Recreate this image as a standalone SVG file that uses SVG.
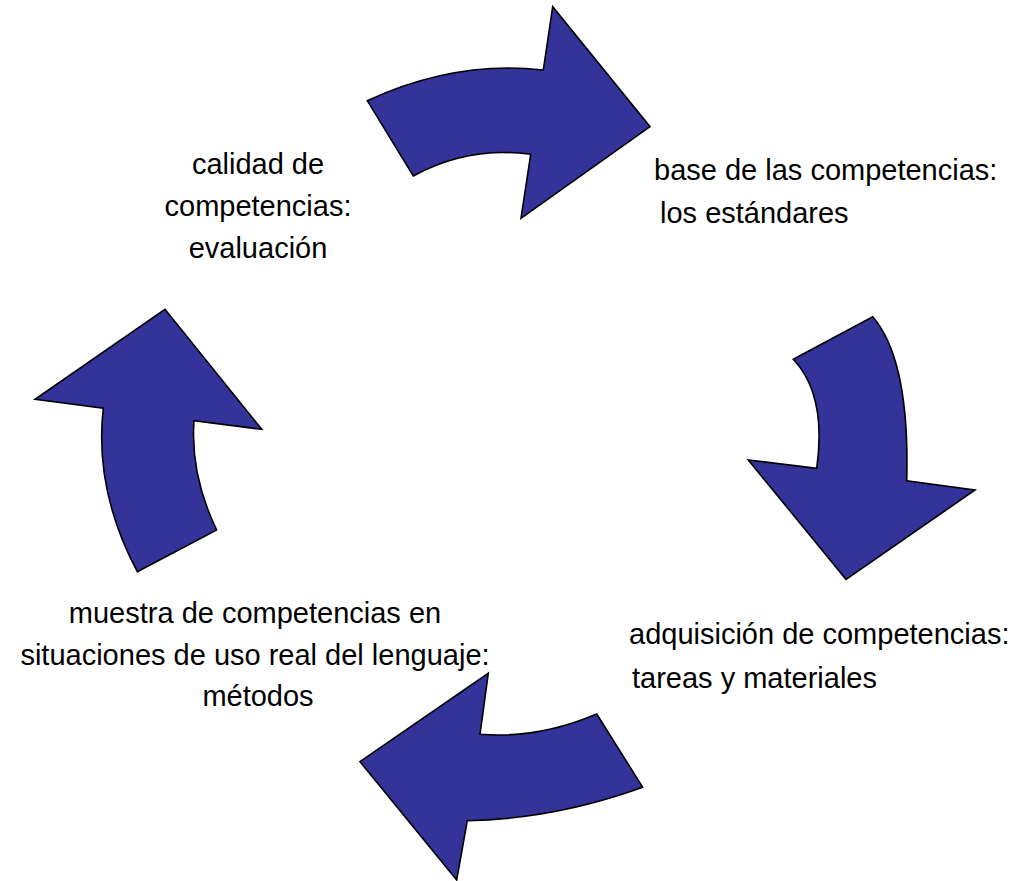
<svg xmlns="http://www.w3.org/2000/svg" width="1018" height="881" viewBox="0 0 1018 881">
<style>
.arr{fill:#333399;stroke:#000;stroke-width:1.6;stroke-linejoin:miter}
.t{font-family:"Liberation Sans",Arial,sans-serif;font-size:29px;fill:#000}
.c{text-anchor:middle}
</style>
<rect width="1018" height="881" fill="#fff"/>
<g id="connectors">
<path id="arrow-top" class="arr" d="M367.3,100.7 Q455,60 543.3,70 L552.7,6.7 L650,126.7 L521,218.3 L530.7,154.3 Q468,146 413.3,176 Z"/>
<path id="arrow-right" class="arr" d="M793.3,359.3 L872.7,316.7 Q910,360 906.7,480.7 L975,490 L846,579.3 L748.3,460 L816.7,468.3 Q827,395 793.3,359.3 Z"/>
<path id="arrow-bottom" class="arr" d="M596.7,714 L642.7,787.3 Q555,819 467.3,820.7 L456.7,880 L360,761.7 L488.3,673.3 L480,734.3 Q538,739 596.7,714 Z"/>
<path id="arrow-left" class="arr" d="M137.3,571.7 L216.7,530 Q190,475 194,420.7 L261.7,429.3 L165,309.3 L35,399.3 L103.3,408.3 Q94,490 137.3,571.7 Z"/>
</g>
<g id="node-calidad">
<text class="t c" x="258" y="174">calidad de</text>
<text class="t c" x="258" y="216">competencias:</text>
<text class="t c" x="258" y="258">evaluación</text>
</g>
<g id="node-base">
<text class="t" x="654" y="180">base de las competencias:</text>
<text class="t" x="660" y="223">los estándares</text>
</g>
<g id="node-adquisicion">
<text class="t" x="629" y="644">adquisición de competencias:</text>
<text class="t" x="632" y="688">tareas y materiales</text>
</g>
<g id="node-muestra">
<text class="t c" x="255" y="623">muestra de competencias en</text>
<text class="t c" x="255" y="665">situaciones de uso real del lenguaje:</text>
<text class="t c" x="258" y="706">métodos</text>
</g>
</svg>
